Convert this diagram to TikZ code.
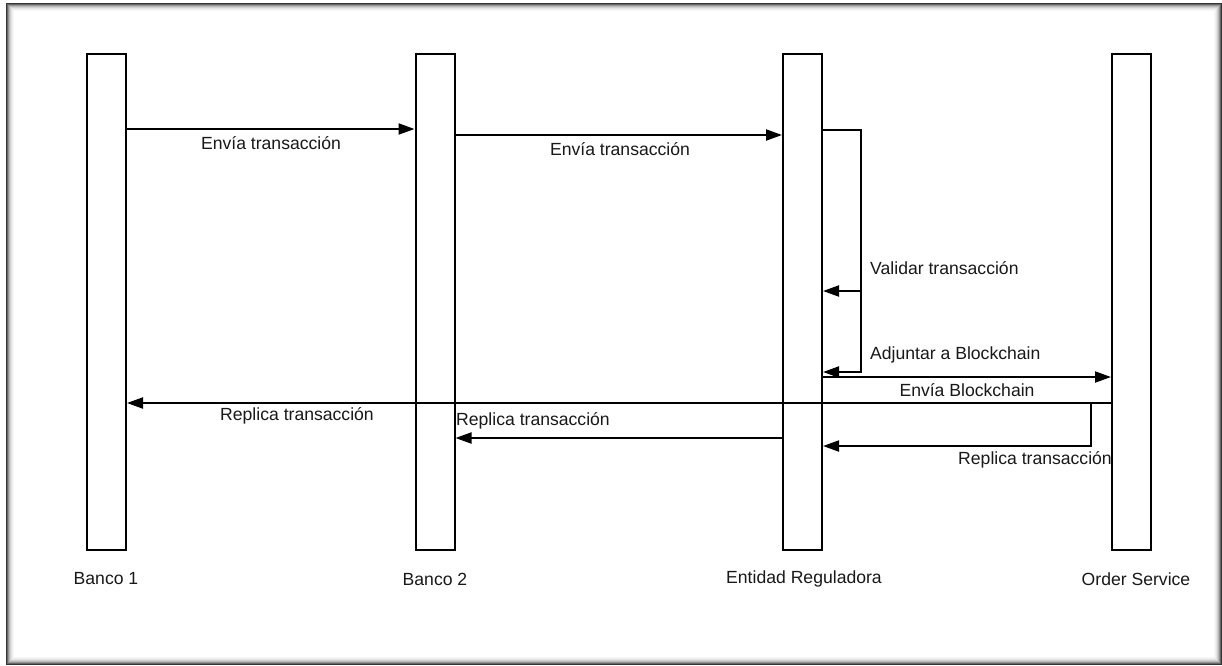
\documentclass[tikz,border=0pt]{standalone}
\usepackage{fontspec}
\setmainfont{Liberation Sans}
\usetikzlibrary{arrows.meta}
\begin{document}
\begin{tikzpicture}[x=1pt,y=-1pt,
  life/.style={draw=black,line width=2pt,fill=white,minimum width=39pt,minimum height=496pt,inner sep=0pt},
  msg/.style={draw=black,line width=2pt,-{Triangle[length=16pt,width=11pt]}},
  wire/.style={draw=black,line width=2pt},
  lbl/.style={font=\fontsize{17.6}{19}\selectfont,inner sep=0pt,text=black!90}]
% page and framed panel with a soft inner shadow
\fill[white] (0,0) rectangle (1222,665);
\foreach \i/\o in {0/0.8,1/0.6,2/0.42,3/0.28,4/0.18,5/0.11,6/0.06,7/0.03}{
  \draw[black,opacity=\o,line width=1pt] (6.5+\i,3.5+\i) rectangle (1221.5-\i,664.5-\i);
}
% lifelines
\node[life] (b1) at (106.5,302) {};
\node[life] (b2) at (435,302) {};
\node[life] (er) at (802.5,302) {};
\node[life] (os) at (1131.5,302) {};
% participant names
\node[lbl] (nb1) at (106,579) {Banco 1};
\node[lbl] (nb2) at (435,579) {Banco 2};
\node[lbl] (ner) at (804,579) {Entidad Reguladora};
\node[lbl] (nos) at (1136,579) {Order Service};
% turning points of the self messages
\coordinate (c1) at (861,130);
\coordinate (c2) at (861,291);
\coordinate (c3) at (861,372);
\coordinate (c4) at (1091,403);
\coordinate (c5) at (1091,446);
% messages
\draw[msg] (b1.east |- 0,129) -- (b2.west |- 0,129);
\draw[msg] (b2.east |- 0,135) -- (er.west |- 0,135);
\draw[msg] (er.east |- c1) -- (c1) -- (c2) -- (er.east |- c2);
\draw[msg] (c2) -- (c3) -- (er.east |- c3);
\draw[msg] (er.east |- 0,377) -- (os.west |- 0,377);
\draw[msg] (os.west |- c4) -- (b1.east |- c4);
\draw[msg] (er.west |- 0,438) -- (b2.east |- 0,438);
\draw[msg] (c4) -- (c5) -- (er.east |- c5);
% message labels
\node[lbl] (l1) at (271,143) {Envía transacción};
\node[lbl] (l2) at (620,149) {Envía transacción};
\node[lbl,anchor=west] (l3) at (870,268) {Validar transacción};
\node[lbl,anchor=west] (l4) at (870,355) {Adjuntar a Blockchain};
\node[lbl] (l5) at (967,390) {Envía Blockchain};
\node[lbl] (l6) at (297,416) {Replica transacción};
\node[lbl,anchor=west] (l7) at (456,421) {Replica transacción};
\node[lbl,anchor=east] (l8) at (1112,460) {Replica transacción};
\end{tikzpicture}
\end{document}
